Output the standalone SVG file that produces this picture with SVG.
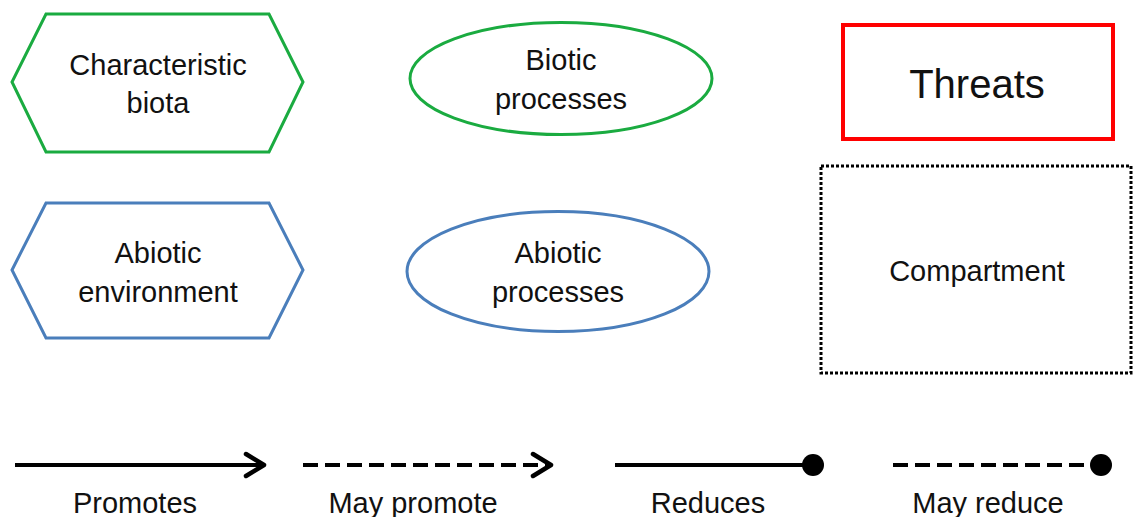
<svg xmlns="http://www.w3.org/2000/svg" width="1133" height="517" viewBox="0 0 1133 517">
<style>
text{font-family:"Liberation Sans",Arial,sans-serif;font-size:29px;fill:#111;text-anchor:middle}
.g{fill:#fff;stroke:#1aab40;stroke-width:3}
.b{fill:#fff;stroke:#4a7ebb;stroke-width:3}
.ln{stroke:#000;stroke-width:4;fill:none}
.dash{stroke-dasharray:15 7}
</style>
<defs>
<marker id="arr" markerWidth="26" markerHeight="28" refX="22" refY="14" orient="auto" markerUnits="userSpaceOnUse">
<path d="M4,3 L22,14 L4,25" fill="none" stroke="#000" stroke-width="4.5" stroke-linecap="round" stroke-linejoin="round"/>
</marker>
<marker id="dot" markerWidth="24" markerHeight="24" refX="12" refY="12" orient="auto" markerUnits="userSpaceOnUse">
<circle cx="12" cy="12" r="11" fill="#000"/>
</marker>
</defs>
<rect width="1133" height="517" fill="#fff"/>
<g id="characteristic-biota">
<polygon class="g" points="46,14 269,14 303,82 269,152 46,152 12,82"/>
<text x="158" y="75">Characteristic</text>
<text x="158" y="113">biota</text>
</g>
<g id="abiotic-environment">
<polygon class="b" points="46,203 269,203 303,270 269,338 46,338 12,270"/>
<text x="158" y="263">Abiotic</text>
<text x="158" y="302">environment</text>
</g>
<g id="biotic-processes">
<ellipse class="g" cx="561" cy="78.5" rx="151" ry="56"/>
<text x="561" y="70">Biotic</text>
<text x="561" y="109">processes</text>
</g>
<g id="abiotic-processes">
<ellipse class="b" cx="558" cy="271.5" rx="151" ry="60"/>
<text x="558" y="263">Abiotic</text>
<text x="558" y="302">processes</text>
</g>
<g id="threats">
<rect x="843" y="25" width="270" height="114" fill="#fff" stroke="#f00" stroke-width="4"/>
<text x="977" y="98" style="font-size:40px">Threats</text>
</g>
<g id="compartment">
<rect x="821" y="166" width="310" height="207" fill="#fff" stroke="#000" stroke-width="3" stroke-dasharray="3 2"/>
<text x="977" y="281">Compartment</text>
</g>
<g id="connectors">
<line class="ln" x1="15" y1="465" x2="264" y2="465" marker-end="url(#arr)"/>
<line class="ln dash" x1="303" y1="465" x2="551" y2="465" marker-end="url(#arr)"/>
<line class="ln" x1="615" y1="465" x2="813" y2="465" marker-end="url(#dot)"/>
<line class="ln dash" x1="893" y1="465" x2="1101" y2="465" marker-end="url(#dot)"/>
</g>
<g id="legend-labels">
<text x="135" y="513">Promotes</text>
<text x="413" y="513">May promote</text>
<text x="708" y="513">Reduces</text>
<text x="988" y="513">May reduce</text>
</g>
</svg>
